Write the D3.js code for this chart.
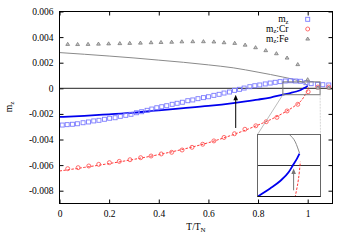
<!DOCTYPE html>
<html><head><meta charset="utf-8">
<script src="https://cdn.jsdelivr.net/npm/d3@7"></script>
<style>body{margin:0;background:#fff}svg{display:block}text{font-family:"Liberation Serif","DejaVu Serif",serif}</style>
</head><body><svg id="c" width="350" height="245"></svg>
<script>
// ---- data ----
const xTickValues=[0,0.2,0.4,0.6,0.8,1];
const xTickLabels=["0","0.2","0.4","0.6","0.8","1"];
const yTickValues=[0.006,0.004,0.002,0,-0.002,-0.004,-0.006,-0.008];
const yTickLabels=["0.006","0.004","0.002","0","-0.002","-0.004","-0.006","-0.008"];

const mzT=[0.011,0.031,0.052,0.072,0.095,0.117,0.138,0.159,0.181,0.202,0.224,0.245,0.267,0.288,0.31,0.331,0.353,0.372,0.392,0.412,0.432,0.454,0.474,0.495,0.517,0.537,0.558,0.58,0.6,0.622,0.643,0.663,0.685,0.705,0.725,0.744,0.767,0.787,0.807,0.829,0.849,0.869,0.889,0.910,0.931,0.951,0.971,0.993,1.014,1.04,1.061,1.085];
const mzVal=[-0.00287,-0.00284,-0.00281,-0.00277,-0.00269,-0.00263,-0.00255,-0.0025,-0.00242,-0.00234,-0.0023,-0.00219,-0.00211,-0.00203,-0.00191,-0.00183,-0.00172,-0.00162,-0.00152,-0.00144,-0.00136,-0.00125,-0.00117,-0.00109,-0.00097,-0.00091,-0.00081,-0.00073,-0.00066,-0.00055,-0.00047,-0.00037,-0.00029,-0.00016,-0.00008,0.00002,0.000125,0.0002,0.00026,0.00034,0.00041,0.00047,0.00052,0.00057,0.00059,0.00057,0.00055,0.00044,0.00036,0.00031,0.00028,0.00026];

const crT=[0.033,0.075,0.118,0.158,0.201,0.241,0.284,0.327,0.369,0.41,0.452,0.494,0.534,0.577,0.622,0.663,0.705,0.747,0.791,0.833,0.876,0.917,0.960,1.002,1.041,1.085];
const crVal=[-0.00628,-0.0062,-0.00607,-0.00594,-0.00581,-0.00571,-0.00558,-0.00542,-0.00529,-0.00513,-0.005,-0.00482,-0.00461,-0.00437,-0.00411,-0.00384,-0.00355,-0.0032,-0.00293,-0.00261,-0.00227,-0.00177,-0.00125,-0.00027,0.0001,0.0001];

const feT=[0.033,0.073,0.115,0.157,0.198,0.243,0.283,0.326,0.369,0.409,0.452,0.493,0.537,0.58,0.622,0.663,0.706,0.748,0.790,0.831,0.874,0.917,0.960,1.0,1.041,1.085];
const feVal=[0.00346,0.00345,0.00346,0.00348,0.0035,0.00352,0.00354,0.00356,0.00359,0.00361,0.00363,0.00366,0.00367,0.00367,0.00365,0.00359,0.00354,0.0034,0.0032,0.00297,0.00273,0.00239,0.00188,0.0007,0.00005,0.00005];

// theory curves
const totT=[0,0.1,0.2,0.3,0.4,0.5,0.6,0.7,0.75,0.8,0.85,0.9,0.93,0.954,0.974,0.984,0.994,1.0];
const totVal=[-0.00224,-0.00215,-0.00203,-0.0019,-0.00172,-0.00155,-0.00137,-0.00115,-0.00102,-0.00088,-0.00072,-0.0005,-0.00037,-0.00025,-0.00011,0,0.00011,0.00019];
const feLineT=[0,0.1,0.2,0.3,0.4,0.5,0.6,0.7,0.8,0.9,0.95,0.976,0.99,1.0];
const feLineVal=[0.00279,0.00266,0.00252,0.00237,0.0022,0.00203,0.00183,0.0016,0.00126,0.00088,0.00066,0.0005,0.00038,0.0002];
const crLineT=[0,0.1,0.2,0.3,0.4,0.5,0.6,0.7,0.8,0.85,0.9,0.95,0.97,0.99,1.0,1.002];
const crLineVal=[-0.00646,-0.00618,-0.00588,-0.00555,-0.00518,-0.00475,-0.00425,-0.00362,-0.00287,-0.00245,-0.00195,-0.00135,-0.00105,-0.0005,-0.00008,0.00006];

const legendLabels=[["m","z",""],["m","z",":Cr"],["m","z",":Fe"]];

// ---- drawing ----
const svg=d3.select('#c');
const L=59.5,R=332.5,T=11.5,B=203.5;
const x=d3.scaleLinear([0,1.1],[L,R]);
const y=d3.scaleLinear([-0.009,0.006],[B,T]);
const zip=(a,b)=>a.map((t,i)=>[t,b[i]]);

function styleAxis(g){
  g.select('.domain').remove();
  g.selectAll('.tick line').attr('stroke','#000');
  g.selectAll('text').attr('font-size',9.5).attr('fill','#000').attr('font-family','"Liberation Serif",serif');
}
svg.append('g').attr('transform',`translate(0,${B})`)
  .call(d3.axisBottom(x).tickValues(xTickValues).tickFormat((d,i)=>xTickLabels[i]).tickSize(-4).tickPadding(6.5)).call(styleAxis);
svg.append('g').attr('transform',`translate(0,${T})`)
  .call(d3.axisTop(x).tickValues(xTickValues).tickFormat('').tickSize(-4)).call(styleAxis);
svg.append('g').attr('transform',`translate(${L},0)`)
  .call(d3.axisLeft(y).tickValues(yTickValues).tickFormat((d,i)=>yTickLabels[i]).tickSize(-4).tickPadding(6)).call(styleAxis);
svg.append('g').attr('transform',`translate(${R},0)`)
  .call(d3.axisRight(y).tickValues(yTickValues).tickFormat('').tickSize(-4)).call(styleAxis);

svg.append('clipPath').attr('id','pc').append('rect').attr('x',L).attr('y',T).attr('width',R-L).attr('height',B-T);
const pg=svg.append('g').attr('clip-path','url(#pc)');

// zero line
pg.append('line').attr('x1',x(0)).attr('x2',x(1.1)).attr('y1',y(0)).attr('y2',y(0)).attr('stroke','#222').attr('stroke-width',1);

const line=(sx,sy)=>d3.line().x(d=>sx(d[0])).y(d=>sy(d[1])).curve(d3.curveMonotoneX);

function drawLines(g,sx,sy){
  g.append('path').datum(zip(feLineT,feLineVal)).attr('d',line(sx,sy)).attr('fill','none').attr('stroke','#8a8a8a').attr('stroke-width',1);
  g.append('path').datum(zip(crLineT,crLineVal)).attr('d',line(sx,sy)).attr('fill','none').attr('stroke','#ff2020').attr('stroke-width',0.9).attr('stroke-dasharray','2.5,1.5');
  g.append('path').datum(zip(totT,totVal)).attr('d',line(sx,sy)).attr('fill','none').attr('stroke','#0000ee').attr('stroke-width',1.8);
}
drawLines(pg,x,y);

// markers
function sq(g,cx,cy){g.append('rect').attr('x',cx-2).attr('y',cy-2).attr('width',4).attr('height',4).attr('fill','none').attr('stroke','#7b7bff').attr('stroke-width',0.9);}
function ci(g,cx,cy){g.append('circle').attr('cx',cx).attr('cy',cy).attr('r',2).attr('fill','none').attr('stroke','#ff5a5a').attr('stroke-width',0.9);}
function tr(g,cx,cy){g.append('path').attr('d',`M${cx},${cy-1.7}L${cx+1.9},${cy+1.4}L${cx-1.9},${cy+1.4}Z`).attr('fill','#c4c4c4').attr('stroke','#6f6f6f').attr('stroke-width',0.7);}

zip(mzT,mzVal).forEach(d=>sq(pg,x(d[0]),y(d[1])));
zip(crT,crVal).forEach(d=>ci(pg,x(d[0]),y(d[1])));
zip(feT,feVal).forEach(d=>tr(pg,x(d[0]),y(d[1])));

// arrow helper
function arrow(g,sx,sy,t,m0,m1,color){
  const ax=sx(t),y0=sy(m0),y1=sy(m1);
  g.append('line').attr('x1',ax).attr('x2',ax).attr('y1',y0).attr('y2',y1+3).attr('stroke',color).attr('stroke-width',1);
  g.append('path').attr('d',`M${ax},${y1}L${ax+2.3},${y1+5.5}L${ax-2.3},${y1+5.5}Z`).attr('fill',color);
}
arrow(pg,x,y,0.71,-0.0031,-0.0005,'#000');

// zoom box
const zx0=0.9,zx1=1.05,zy0=-0.0005,zy1=0.0005;
svg.append('rect').attr('x',x(zx0)).attr('y',y(zy1)).attr('width',x(zx1)-x(zx0)).attr('height',y(zy0)-y(zy1)).attr('fill','none').attr('stroke','#777').attr('stroke-width',1);

// inset
const IL=257.5,IR=320.5,IT=134.5,IB=196.5;
const ix=d3.scaleLinear([zx0,zx1],[IL,IR]);
const iy=d3.scaleLinear([zy0,zy1],[IB,IT]);
svg.append('line').attr('x1',x(zx0)).attr('y1',y(zy0)).attr('x2',IL).attr('y2',IT).attr('stroke','#aaa').attr('stroke-width',0.8);
svg.append('line').attr('x1',x(zx1)).attr('y1',y(zy0)).attr('x2',IR).attr('y2',IT).attr('stroke','#ccc').attr('stroke-width',0.8).attr('stroke-dasharray','2,1');

svg.append('rect').attr('x',IL).attr('y',IT).attr('width',IR-IL).attr('height',IB-IT).attr('fill','#fff');
svg.append('clipPath').attr('id','ic').append('rect').attr('x',IL).attr('y',IT).attr('width',IR-IL).attr('height',IB-IT);
const ig=svg.append('g').attr('clip-path','url(#ic)');
ig.append('line').attr('x1',IL).attr('x2',IR).attr('y1',iy(0)).attr('y2',iy(0)).attr('stroke','#333').attr('stroke-width',1);
drawLines(ig,ix,iy);
arrow(ig,ix,iy,0.986,-0.0004,-0.00005,'#777');
svg.append('rect').attr('x',IL).attr('y',IT).attr('width',IR-IL).attr('height',IB-IT).attr('fill','none').attr('stroke','#666').attr('stroke-width',1);
svg.append('line').attr('x1',IL).attr('x2',IR).attr('y1',IB).attr('y2',IB).attr('stroke','#111').attr('stroke-width',1);

// frame
svg.append('rect').attr('x',L).attr('y',T).attr('width',R-L).attr('height',B-T).attr('fill','none').attr('stroke','#000').attr('stroke-width',1);

// legend
const legY=[19.3,29,38.7];
const markers=[sq,ci,tr];
legendLabels.forEach((lab,i)=>{
  const t=svg.append('text').attr('x',288.5).attr('y',legY[i]+2.8).attr('text-anchor','end').attr('font-size',9.5);
  t.append('tspan').text(lab[0]);
  t.append('tspan').attr('font-size',6.5).attr('dy',1.5).text(lab[1]);
  if(lab[2]) t.append('tspan').attr('dy',-1.5).attr('font-size',9.5).text(lab[2]);
  markers[i](svg,307.7,legY[i]);
});

// axis labels
const xl=svg.append('text').attr('x',196).attr('y',230).attr('text-anchor','middle').attr('font-size',9.5);
xl.append('tspan').text('T/T');
xl.append('tspan').attr('font-size',7).attr('dy',2).text('N');
const yl=svg.append('text').attr('transform','translate(11.5,107) rotate(-90)').attr('text-anchor','middle').attr('font-size',9.5);
yl.append('tspan').text('m');
yl.append('tspan').attr('font-size',7).attr('dy',2).text('z');
</script></body></html>
